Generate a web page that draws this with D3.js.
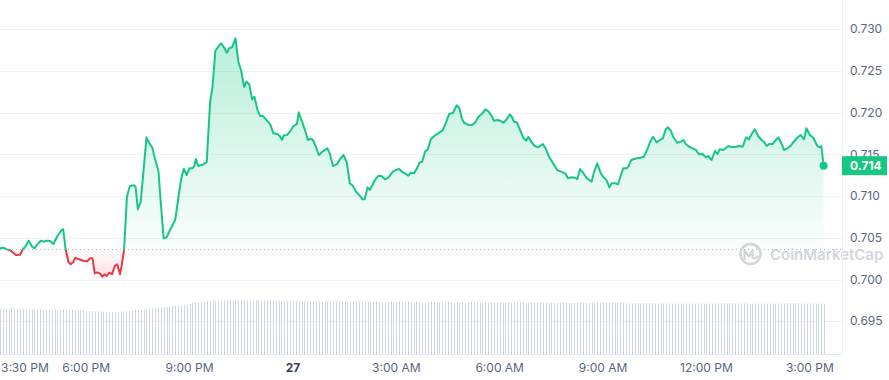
<!DOCTYPE html>
<html>
<head>
<meta charset="utf-8">
<script src="https://cdn.jsdelivr.net/npm/d3@7"></script>
<style>
  html, body { margin: 0; padding: 0; background: #fff; }
  svg { display: block; font-family: Inter, "Noto Sans", sans-serif; }
</style>
</head>
<body>
<div id="grafico"></div>
<script>
// ==============================
// DATOS
// ==============================

// minutos desde las 3:30 PM del día 26
const minutos = [
  0,6,12,17,23,28,35,39,44,50,56,60,65,71,77,81,87,93,100,107,110,114,119,123,128,131,136,145,152,157,
  161,165,169,174,178,182,186,190,195,200,204,209,212,216,
  221,226,233,236,240,245,249,255,260,265,269,276,280,285,290,296,305,310,315,320,325,330,334,338,341,345,354,360,
  362,366,370,375,380,385,390,395,399,404,410,415,420,425,429,434,439,443,448,453,458,463,468,471,476,483,487,491,494,500,
  506,511,517,520,525,531,536,541,545,550,555,
  561,570,574,580,587,593,598,604,609,614,620,627,631,635,640,644,650,655,659,664,670,676,684,689,695,700,705,711,715,721,
  726,730,735,740,745,750,756,763,771,776,
  782,789,795,800,804,808,815,822,827,834,839,845,851,856,860,866,872,876,881,888,891,895,900,905,911,916,920,926,931,937,
  945,950,956,963,970,976,984,989,995,1001,1005,
  1010,1015,1022,1030,1034,1040,1046,1051,1056,1061,1065,1071,1076,1081,1085,1091,1094,1099,1104,1109,1115,1121,1127,1132,
  1137,1143,1149,1154,1159,1163,1168,1172,1179,1185,1190,1194,1200,1206,1212,1217,1223,
  1229,1233,1239,1245,1249,1253,1259,1268,1274,1281,1287,1293,1299,1304,1310,1314,1320,1326,1330,1335,1339,1345,1351,1355,
  1361,1365,1371,1376,1382,1388,1394,1400,1404,1410,1416,1423,1427,1430,1434
];

const precios = [
  0.70375,0.70382,0.70362,0.70355,0.70322,0.70294,0.70298,0.70355,0.70394,0.70466,0.70394,0.70375,0.70422,0.70466,0.70454,
  0.70466,0.70462,0.70426,0.70522,0.7059,0.70606,0.70375,0.70214,0.70183,0.70214,0.70262,0.70246,0.70226,0.70219,0.70255,
  0.70255,0.70075,0.70087,0.70075,0.70034,0.70063,0.70043,0.70082,0.70063,0.70166,0.70183,0.70063,0.70174,0.70355,
  0.70993,0.71121,0.7113,0.71113,0.70842,0.70933,0.71233,0.71705,0.71633,0.71585,0.71472,0.71293,0.70914,0.70494,0.70506,
  0.70594,0.70714,0.70954,0.71193,0.71329,0.71253,0.71333,0.71333,0.71353,0.71445,0.71361,0.71381,0.71409,
  0.71673,0.7214,0.72308,0.72743,0.72791,0.72832,0.72784,0.72719,0.72772,0.72784,0.72892,0.72611,0.72503,0.72311,0.72371,
  0.7234,0.7216,0.72192,0.72041,0.7196,0.7196,0.71921,0.7188,0.71852,0.71753,0.71745,0.71721,0.71673,0.71729,0.71733,
  0.71784,0.7184,0.71864,0.72005,0.71912,0.71792,0.71673,0.71688,0.71673,0.71592,0.71493,
  0.71532,0.71573,0.71513,0.71361,0.71385,0.71453,0.71493,0.714,0.71154,0.71125,0.71053,0.71001,0.70962,0.70962,0.71106,
  0.71073,0.71154,0.71214,0.71245,0.71241,0.71202,0.71221,0.71293,0.71313,0.71325,0.71293,0.71273,0.71245,0.71281,0.71273,
  0.71333,0.714,0.71412,0.71532,0.71561,0.71681,0.71721,0.71753,0.71792,0.71873,
  0.71984,0.72,0.72089,0.72053,0.71933,0.7188,0.71856,0.71852,0.7188,0.7196,0.71984,0.72041,0.72012,0.7196,0.71904,
  0.71912,0.719,0.7188,0.71912,0.71981,0.71952,0.71892,0.71885,0.71801,0.717,0.71664,0.71712,0.7164,0.71601,0.71585,
  0.71625,0.71573,0.71472,0.71393,0.71313,0.71297,0.71273,0.71214,0.71226,0.71221,0.71202,
  0.71325,0.71281,0.71214,0.71173,0.71281,0.71393,0.71273,0.71226,0.71193,0.71106,0.71154,0.71154,0.71142,0.71253,0.71333,
  0.71333,0.71353,0.71433,0.71445,0.71453,0.7146,0.71472,0.71561,0.71652,0.71712,0.71645,0.71673,0.71693,0.71801,0.71825,
  0.71784,0.71712,0.7164,0.71652,0.71673,0.71625,0.71592,0.71573,0.71553,0.71501,0.71505,
  0.71465,0.71481,0.71433,0.71544,0.71505,0.71561,0.71553,0.71601,0.71585,0.71592,0.71601,0.71592,0.71705,0.71681,0.7176,
  0.71801,0.71721,0.71673,0.71652,0.71601,0.71625,0.71625,0.71673,0.71705,0.71625,0.71553,0.71573,0.71601,0.71652,0.717,
  0.71733,0.71681,0.71813,0.71733,0.717,0.71601,0.71585,0.71601,0.71365
];

const precioApertura = 0.7036;

// volumen 24h (millones), una barra cada 5 minutos
const volumenes = [
  150,150,151,150,150,149,150,150,150,150,149,149,
  149,149,149,148,148,148,149,148,147,147,147,147,
  146,146,145,145,144,144,143,143,142,142,142,141,
  141,141,140,140,140,141,141,142,143,144,145,146,
  147,148,149,150,151,152,153,154,155,156,157,158,
  159,160,161,162,163,164,166,168,170,172,174,175,
  176,177,178,178,179,179,180,180,180,180,180,180,
  180,179,179,179,179,179,178,178,178,178,178,178,
  177,177,177,177,177,177,177,177,176,176,176,176,
  176,176,176,176,176,176,176,175,175,175,175,175,
  175,175,175,175,175,175,175,175,175,174,174,174,
  174,174,174,174,174,174,174,174,173,173,173,173,
  173,173,173,173,173,173,173,172,172,172,172,172,
  172,172,172,172,172,172,172,172,172,171,171,171,
  171,171,171,171,171,171,171,171,171,171,171,171,
  171,171,171,170,170,170,170,170,170,170,170,170,
  170,170,170,170,170,170,170,170,170,170,170,170,
  170,170,170,170,171,171,171,171,170,170,170,170,
  170,170,169,169,169,169,169,169,169,169,169,169,
  169,169,169,169,169,169,168,168,168,168,168,168,
  168,168,168,168,168,168,168,168,168,169,169,169,
  169,169,169,169,169,169,169,169,169,168,168,168,
  168,168,168,168,168,168,168,169,169,169,169,169,
  169,169,169,169,168,168,168,168,168,168,168,167
];

const ticksPrecio = [0.695, 0.700, 0.705, 0.710, 0.715, 0.720, 0.725, 0.730];
// horas de las etiquetas del eje x (UTC)
const ticksHora = [
  [26, 15, 30], [26, 18, 0], [26, 21, 0], [27, 0, 0], [27, 3, 0],
  [27, 6, 0], [27, 9, 0], [27, 12, 0], [27, 15, 0]
];

// ==============================
// CONFIGURACIÓN
// ==============================

const W = 889, H = 380;
const plotW = 842, plotH = 354;
const VERDE = "#16c784", ROJO = "#ea3943";
const inicio = Date.UTC(2024, 0, 26, 15, 30);
const MIN = 60000;

const datos = minutos.map((m, i) => ({ t: new Date(inicio + m * MIN), p: precios[i] }));

const x = d3.scaleUtc()
  .domain([new Date(inicio), new Date(inicio + 1466 * MIN)])
  .range([0, plotW]);

const y = d3.scaleLinear()
  .domain([0.69108, 0.73351])
  .range([plotH, 0]);

const yVol = d3.scaleLinear()
  .domain([0, d3.max(volumenes)])
  .range([plotH, 300]);

const svg = d3.select("#grafico").append("svg")
  .attr("width", W)
  .attr("height", H);

const defs = svg.append("defs");
const yBase = y(precioApertura);
const yTop = y(d3.max(precios));
const yBot = y(d3.min(precios));

// degradado de la línea (verde arriba / rojo abajo)
const gLinea = defs.append("linearGradient")
  .attr("id", "grad-linea")
  .attr("gradientUnits", "userSpaceOnUse")
  .attr("x1", 0).attr("x2", 0).attr("y1", 0).attr("y2", plotH);
const off = yBase / plotH;
gLinea.append("stop").attr("offset", off).attr("stop-color", VERDE);
gLinea.append("stop").attr("offset", off).attr("stop-color", ROJO);

// degradado del área
const gArea = defs.append("linearGradient")
  .attr("id", "grad-area")
  .attr("gradientUnits", "userSpaceOnUse")
  .attr("x1", 0).attr("x2", 0).attr("y1", yTop).attr("y2", yBot);
const offA = (yBase - yTop) / (yBot - yTop);
gArea.append("stop").attr("offset", 0).attr("stop-color", VERDE).attr("stop-opacity", 0.3);
gArea.append("stop").attr("offset", offA).attr("stop-color", VERDE).attr("stop-opacity", 0.02);
gArea.append("stop").attr("offset", offA).attr("stop-color", ROJO).attr("stop-opacity", 0.02);
gArea.append("stop").attr("offset", 1).attr("stop-color", ROJO).attr("stop-opacity", 0.14);

// ==============================
// REJILLA
// ==============================

svg.append("g")
  .selectAll("line")
  .data(ticksPrecio)
  .join("line")
  .attr("x1", 0).attr("x2", plotW)
  .attr("y1", d => Math.round(y(d)) + 0.5)
  .attr("y2", d => Math.round(y(d)) + 0.5)
  .attr("stroke", "#eff2f5");

// ==============================
// VOLUMEN
// ==============================

svg.append("g")
  .selectAll("rect")
  .data(volumenes)
  .join("rect")
  .attr("x", (d, i) => Math.round(x(new Date(inicio + i * 5 * MIN))))
  .attr("y", d => yVol(d))
  .attr("width", 1)
  .attr("height", d => plotH - yVol(d))
  .attr("fill", "#cfd6e4");

// ==============================
// ÁREA Y LÍNEA
// ==============================

svg.append("path")
  .datum(datos)
  .attr("d", d3.area().x(d => x(d.t)).y0(yBase).y1(d => y(d.p)))
  .attr("fill", "url(#grad-area)");

svg.append("line")
  .attr("x1", 0).attr("x2", plotW)
  .attr("y1", yBase).attr("y2", yBase)
  .attr("stroke", "#a6b0c3")
  .attr("stroke-width", 1)
  .attr("stroke-dasharray", "1 3");

svg.append("path")
  .datum(datos)
  .attr("d", d3.line().x(d => x(d.t)).y(d => y(d.p)))
  .attr("fill", "none")
  .attr("stroke", "url(#grad-linea)")
  .attr("stroke-width", 2)
  .attr("stroke-linejoin", "round");

const ultimo = datos[datos.length - 1];
svg.append("circle")
  .attr("cx", x(ultimo.t))
  .attr("cy", y(ultimo.p))
  .attr("r", 4)
  .attr("fill", VERDE);

// ==============================
// MARCA DE AGUA
// ==============================

const marca = svg.append("g").attr("opacity", 0.75);
marca.append("circle")
  .attr("cx", 750.5).attr("cy", 254).attr("r", 10)
  .attr("fill", "none").attr("stroke", "#c3c8d1").attr("stroke-width", 2.4);
marca.append("path")
  .attr("d", "M744.5,259 V250.5 L749,256.5 L752.5,250.5 V257 Q754.5,260 757.5,256.5")
  .attr("fill", "none").attr("stroke", "#c3c8d1").attr("stroke-width", 2.2)
  .attr("stroke-linejoin", "round").attr("stroke-linecap", "round");
marca.append("text")
  .attr("x", 770).attr("y", 259.5)
  .attr("font-size", 15).attr("font-weight", 600)
  .attr("fill", "#c3c8d1")
  .text("CoinMarketCap");

// ==============================
// EJES
// ==============================

svg.append("line")
  .attr("x1", plotW + 0.5).attr("x2", plotW + 0.5)
  .attr("y1", 0).attr("y2", plotH)
  .attr("stroke", "#eff2f5");
svg.append("line")
  .attr("x1", 0).attr("x2", plotW)
  .attr("y1", plotH + 0.5).attr("y2", plotH + 0.5)
  .attr("stroke", "#e6e9ee");

svg.append("g")
  .selectAll("text")
  .data(ticksPrecio)
  .join("text")
  .attr("x", 850)
  .attr("y", d => y(d))
  .attr("dy", "0.35em")
  .attr("font-size", 12)
  .attr("fill", "#58667e")
  .text(d3.format(".3f"));

const fmtHora = d3.utcFormat("%-I:%M %p");
const fmtDia = d3.utcFormat("%-d");
const horas = ticksHora.map(([d, h, m]) => new Date(Date.UTC(2024, 0, d, h, m)));

svg.append("g")
  .selectAll("text")
  .data(horas)
  .join("text")
  .attr("x", (d, i) => i === 0 ? 1 : x(d))
  .attr("y", 372)
  .attr("text-anchor", (d, i) => i === 0 ? "start" : "middle")
  .attr("font-size", 12)
  .attr("font-weight", d => d.getUTCHours() === 0 ? 700 : 400)
  .attr("fill", d => d.getUTCHours() === 0 ? "#3a4150" : "#58667e")
  .text(d => d.getUTCHours() === 0 ? fmtDia(d) : fmtHora(d));

// etiqueta del último precio
svg.append("rect")
  .attr("x", plotW).attr("y", y(ultimo.p) - 9.5)
  .attr("width", 45).attr("height", 19)
  .attr("fill", VERDE);
svg.append("text")
  .attr("x", 850).attr("y", y(ultimo.p))
  .attr("dy", "0.35em")
  .attr("font-size", 12).attr("font-weight", 700)
  .attr("fill", "#fff")
  .text(d3.format(".3f")(ultimo.p));
</script>
</body>
</html>
